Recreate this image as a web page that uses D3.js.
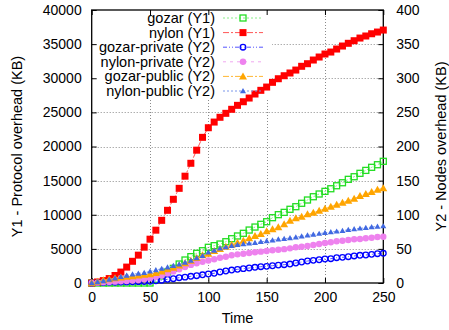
<!DOCTYPE html>
<html>
<head>
<meta charset="utf-8">
<script src="https://cdn.jsdelivr.net/npm/d3@7"></script>
<style>
body { margin: 0; background: #fff; }
text { font-family: "Liberation Sans", Arial, sans-serif; fill: #000; }
</style>
</head>
<body>
<div id="chart-container"></div>
<script>
// sample times (every 5 units)
var times = d3.range(0, 251, 5);

// Y1 series (KB)
var gozar = [0,0,0,0,0,0,0,0,0,0,0,
	540,1030,1610,2150,2780,3370,3860,4350,4730,5230,
	5470,5710,6050,6490,6890,7280,7760,8200,8600,8980,
	9570,10010,10350,10800,11180,11680,12160,12640,13040,13430,
	13810,14250,14690,15190,15570,16070,16500,16950,17330,17830];
var nylon = [0,150,350,650,1100,1600,2330,3180,4080,5250,
	6420,7740,9180,10650,12260,13870,15650,17540,19460,21340,
	22750,23580,24280,24860,25450,26030,26560,27100,27690,28230,
	28710,29400,29930,30370,30770,31200,31750,32130,32670,33110,
	33550,33840,34280,34720,35120,35500,35890,36190,36520,36770,37060];

// Y2 series (KB)
var gozarPrivate = [0,0.5,0.8,1,1.2,1.4,1.6,1.8,2,2.2,2.5,
	3.2,4,5.4,6.3,7.8,8.6,9.8,10.7,12,13.2,
	14.2,16.1,17.6,19,20,21,22,23,23.9,24.4,
	25.3,26.2,26.8,27.8,29.3,30.8,32.2,33.2,34.1,35.2,
	35.6,37.1,37.6,38.5,39.6,40.6,41,42,42.9,43.5];
var nylonPrivate = [0,0.5,1,1.5,2,2.5,3,3.5,4.5,5.5,
	7,9,11,14,17,20,23.5,26.5,29,31.2,
	33,34.7,37,38.5,40.6,42,42.9,44,45,45.9,
	46.9,47.9,48.8,49.6,50.8,52.3,53.2,54.2,55.7,57.1,
	58.6,59.6,61.1,62,63,64,64.5,65.5,66.4,67.4,67.8];
var gozarPublic = [0,2,4,5.5,7,8,9,10,11,12,
	13,14.6,17,20,22.5,25.5,29,32.5,36.5,40.5,
	43,47,50,53.2,56.1,59,62,65.5,68.9,71.8,
	75.7,78.7,81.6,86,91.3,94.8,97.1,100.6,103,105.9,
	108.8,111.8,114.7,117.6,120.6,123.5,127.5,130.4,133.3,136.7,138.7];
var nylonPublic = [0,1.5,3,5,7,9,11,12.7,14,15,
	17,19,21,23,25.3,27.5,30,33,36.5,40,
	45,47.5,51,52.5,54.6,56,57.1,58,59,60.3,
	61.5,62.7,64,64.8,66,67,68.5,69.8,71,72.3,
	73.5,74.7,75.6,76.6,78,79.1,80,81,82,82.8,83.3];

var xTicks = [0, 50, 100, 150, 200, 250];
var y1Ticks = [0,5000,10000,15000,20000,25000,30000,35000,40000];
var y2Ticks = [0,50,100,150,200,250,300,350,400];

var series = [
	{name: 'gozar (Y1)', values: gozar, axis: 1, color: '#22dd22', line: '#88ee88', dash: '2,2', shape: 'openSquare'},
	{name: 'nylon (Y1)', values: nylon, axis: 1, color: '#ff0000', line: '#ff5555', dash: '6,2,2,2', shape: 'square'},
	{name: 'gozar-private (Y2)', values: gozarPrivate, axis: 2, color: '#0000ff', line: '#5555ff', dash: '4,2,1,2,1,2', shape: 'openCircle'},
	{name: 'nylon-private (Y2)', values: nylonPrivate, axis: 2, color: '#ee82ee', line: '#f0a8f0', dash: '3,4', shape: 'circle'},
	{name: 'gozar-public (Y2)', values: gozarPublic, axis: 2, color: '#ffa500', line: '#ffb733', dash: '6,2,2,2', shape: 'triangle'},
	{name: 'nylon-public (Y2)', values: nylonPublic, axis: 2, color: '#4169e1', line: '#7a96ea', dash: '2,2', shape: 'smallTriangle'}
];

var W = 449, H = 330;
var pLeft = 91.7, pRight = 383.3, pTop = 10, pBottom = 283;

var svg = d3.select("#chart-container").append("svg")
	.attr("width", W)
	.attr("height", H);

var x = d3.scaleLinear().domain([0, 250]).range([pLeft, pRight]);
var y1 = d3.scaleLinear().domain([0, 40000]).range([pBottom, pTop]);
var y2 = d3.scaleLinear().domain([0, 400]).range([pBottom, pTop]);

// grid
var grid = svg.append("g")
	.attr("stroke", "#8a8a8a")
	.attr("stroke-width", 1)
	.attr("stroke-dasharray", "1,2");
grid.selectAll(".gx").data(xTicks.slice(1, -1)).enter().append("line")
	.attr("x1", function(d){ return Math.round(x(d)) + 0.5; })
	.attr("x2", function(d){ return Math.round(x(d)) + 0.5; })
	.attr("y1", pTop).attr("y2", pBottom);
grid.selectAll(".gy").data(y1Ticks.slice(1, -1)).enter().append("line")
	.attr("y1", function(d){ return Math.round(y1(d)) + 0.5; })
	.attr("y2", function(d){ return Math.round(y1(d)) + 0.5; })
	.attr("x1", pLeft).attr("x2", pRight);

// opaque key box
svg.append("rect")
	.attr("x", pLeft + 1).attr("y", pTop + 1)
	.attr("width", 271 - pLeft).attr("height", 98 - pTop)
	.attr("fill", "#fff");

// axes
var fmt = d3.format("d");
var axisB = d3.axisBottom(x).tickValues(xTicks).tickFormat(fmt).tickSizeInner(-5).tickSizeOuter(0).tickPadding(9);
var axisT = d3.axisTop(x).tickValues(xTicks).tickSizeInner(-5).tickSizeOuter(0).tickFormat("");
var axisL = d3.axisLeft(y1).tickValues(y1Ticks).tickFormat(fmt).tickSizeInner(-5).tickSizeOuter(0).tickPadding(10);
var axisR = d3.axisRight(y2).tickValues(y2Ticks).tickFormat(fmt).tickSizeInner(-5).tickSizeOuter(0).tickPadding(13);

function styleAxis(g) {
	g.select(".domain").remove();
	g.selectAll("line").attr("stroke", "#000").attr("stroke-width", 1);
	g.selectAll("text").attr("font-size", 14).attr("font-family", '"Liberation Sans", Arial, sans-serif');
}
svg.append("g").attr("transform", "translate(0," + pBottom + ")").call(axisB).call(styleAxis);
svg.append("g").attr("transform", "translate(0," + pTop + ")").call(axisT).call(styleAxis);
svg.append("g").attr("transform", "translate(" + pLeft + ",0)").call(axisL).call(styleAxis);
svg.append("g").attr("transform", "translate(" + pRight + ",0)").call(axisR).call(styleAxis)
	.selectAll("text").attr("text-anchor", "start");

// border
svg.append("rect")
	.attr("x", pLeft).attr("y", pTop)
	.attr("width", pRight - pLeft).attr("height", pBottom - pTop)
	.attr("fill", "none").attr("stroke", "#000").attr("stroke-width", 1.3);

function drawMarker(g, shape, color, cx, cy) {
	if (shape === 'square') {
		g.append("rect").attr("x", cx - 3.5).attr("y", cy - 3.5).attr("width", 7).attr("height", 7).attr("fill", color);
	} else if (shape === 'openSquare') {
		g.append("rect").attr("x", cx - 3).attr("y", cy - 3).attr("width", 6).attr("height", 6)
			.attr("fill", "none").attr("stroke", color).attr("stroke-width", 1.3);
	} else if (shape === 'openCircle') {
		g.append("circle").attr("cx", cx).attr("cy", cy).attr("r", 2.8)
			.attr("fill", "none").attr("stroke", color).attr("stroke-width", 1.3);
	} else if (shape === 'circle') {
		g.append("circle").attr("cx", cx).attr("cy", cy).attr("r", 3.2).attr("fill", color);
	} else if (shape === 'triangle') {
		g.append("path").attr("d", "M" + cx + "," + (cy - 4) + "L" + (cx + 4) + "," + (cy + 3) + "L" + (cx - 4) + "," + (cy + 3) + "Z").attr("fill", color);
	} else {
		g.append("path").attr("d", "M" + cx + "," + (cy - 3) + "L" + (cx + 3) + "," + (cy + 2.2) + "L" + (cx - 3) + "," + (cy + 2.2) + "Z").attr("fill", color);
	}
}

// data
series.forEach(function(s) {
	var yy = s.axis === 1 ? y1 : y2;
	var g = svg.append("g");
	var line = d3.line()
		.x(function(d, i){ return x(times[i]); })
		.y(function(d){ return yy(d); });
	g.append("path")
		.attr("d", line(s.values))
		.attr("fill", "none")
		.attr("stroke", s.line)
		.attr("stroke-width", 1)
		.attr("stroke-dasharray", s.dash);
	s.values.forEach(function(v, i) {
		drawMarker(g, s.shape, s.color, x(times[i]), yy(v));
	});
});

// legend
var legend = svg.append("g");
series.forEach(function(s, i) {
	var ly = 18 + i * 14.6;
	legend.append("text")
		.attr("x", 215).attr("y", ly)
		.attr("dy", "0.35em")
		.attr("text-anchor", "end")
		.attr("font-size", 14.5)
		.text(s.name);
	legend.append("line")
		.attr("x1", 223).attr("x2", 263)
		.attr("y1", ly).attr("y2", ly)
		.attr("stroke", s.line).attr("stroke-width", 1)
		.attr("stroke-dasharray", s.dash);
	drawMarker(legend, s.shape, s.color, 243, ly);
});

// axis titles
svg.append("text")
	.attr("x", (pLeft + pRight) / 2).attr("y", 323)
	.attr("text-anchor", "middle")
	.attr("font-size", 14.5)
	.text("Time");
svg.append("text")
	.attr("transform", "translate(22," + ((pTop + pBottom) / 2) + ") rotate(-90)")
	.attr("text-anchor", "middle")
	.attr("font-size", 14.5)
	.text("Y1 - Protocol overhead (KB)");
svg.append("text")
	.attr("transform", "translate(446," + ((pTop + pBottom) / 2) + ") rotate(-90)")
	.attr("text-anchor", "middle")
	.attr("font-size", 14.5)
	.text("Y2 - Nodes overhead (KB)");
</script>
</body>
</html>
